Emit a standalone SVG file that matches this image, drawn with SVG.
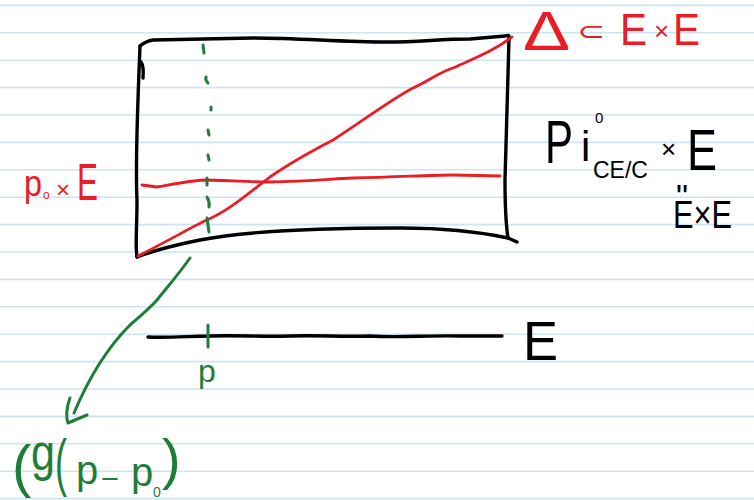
<svg xmlns="http://www.w3.org/2000/svg" width="754" height="500" viewBox="0 0 754 500">
<style>
.rule{stroke:#cde4f5;stroke-width:1.6}
.ink{fill:none;stroke-linecap:round;stroke-linejoin:round}
.blk{stroke:#000;stroke-width:3.4}
.red{stroke:#ec1c24;stroke-width:2.8}
.grn{stroke:#1e7d36;stroke-width:3}
text{font-family:"Liberation Sans","DejaVu Sans",sans-serif}
.tr{fill:#ec1c24}
.tb{fill:#000}
.tg{fill:#1e7d36}
</style>
<rect width="754" height="500" fill="#fff"/>
<g id="paper">
<line class="rule" x1="0" x2="754" y1="5.4" y2="5.4"/>
<line class="rule" x1="0" x2="754" y1="32.8" y2="32.8"/>
<line class="rule" x1="0" x2="754" y1="60.2" y2="60.2"/>
<line class="rule" x1="0" x2="754" y1="87.6" y2="87.6"/>
<line class="rule" x1="0" x2="754" y1="115" y2="115"/>
<line class="rule" x1="0" x2="754" y1="142.4" y2="142.4"/>
<line class="rule" x1="0" x2="754" y1="169.8" y2="169.8"/>
<line class="rule" x1="0" x2="754" y1="197.2" y2="197.2"/>
<line class="rule" x1="0" x2="754" y1="224.6" y2="224.6"/>
<line class="rule" x1="0" x2="754" y1="252" y2="252"/>
<line class="rule" x1="0" x2="754" y1="279.4" y2="279.4"/>
<line class="rule" x1="0" x2="754" y1="306.8" y2="306.8"/>
<line class="rule" x1="0" x2="754" y1="334.2" y2="334.2"/>
<line class="rule" x1="0" x2="754" y1="361.6" y2="361.6"/>
<line class="rule" x1="0" x2="754" y1="389" y2="389"/>
<line class="rule" x1="0" x2="754" y1="416.4" y2="416.4"/>
<line class="rule" x1="0" x2="754" y1="443.8" y2="443.8"/>
<line class="rule" x1="0" x2="754" y1="471.2" y2="471.2"/>
<line class="rule" x1="0" x2="754" y1="498.6" y2="498.6"/>
</g>
<g id="box">
<path class="ink blk" d="M140,46 Q146,41 153,40 L253,38 C300,38 340,42 387,42 C420,42 440,39 470,39 L505,36 Q510,34 509,38"/>
<path class="ink blk" d="M509,38 C508,80 506,140 505,180 C505,210 506,225 508,238 L517,242"/>
<path class="ink blk" d="M508,238 C480,232 450,228 400,228 C340,228 250,230 200,240 C170,246 150,252 137,257"/>
<path class="ink blk" d="M140,46 C138,100 135,160 137,200 C137,230 135,245 137,257"/>
<path class="ink blk" d="M141,62 Q144,66 143,78"/>
</g>
<g id="diagonal">
<path class="ink red" d="M138,256 C170,240 195,225 207,220 C230,210 250,192 270,177 C290,163 310,152 333,140 C360,123 390,100 413,88 C430,80 440,72 453,68 C475,58 495,50 512,37"/>
</g>
<g id="fiber">
<path class="ink red" d="M142,185 L157,187 C180,183 195,180 207,180 C240,181 250,182 270,182 C310,181 330,179 353,178 C400,177 430,175 453,175 L500,176"/>
</g>
<g id="vertical-fiber">
<path class="ink grn" d="M203,45 L204,53 M206,77 Q205,80 208,83 M211,107 L211,110 M208,130 L209,135 M208,155 L209,160 M207,178 L207,185 M207,197 Q210,202 209,207 M207,218 L209,232"/>
</g>
<g id="base-line">
<path class="ink blk" d="M148,337 C170,338 190,336 210,336 C240,335 260,337 290,336 C320,335 340,337 370,336 C400,338 430,335 460,336 L502,336"/>
<path class="ink grn" d="M208,325 L208,347"/>
</g>
<g id="connectors">
<path class="ink grn" d="M190,258 C178,275 165,290 157,300 C148,310 138,318 130,325 C110,345 90,375 74,413"/>
<path class="ink grn" d="M70,398 C66,408 66,418 68,423 L87,415"/>
</g>
<g id="label-diagonal">
<text class="tr" x="523" y="50" font-size="55" textLength="47" lengthAdjust="spacingAndGlyphs">Δ</text>
<text class="tr" x="577" y="40" font-size="26" textLength="28" lengthAdjust="spacingAndGlyphs">⊂</text>
<text class="tr" x="620" y="45" font-size="44" textLength="27" lengthAdjust="spacingAndGlyphs">E</text>
<text class="tr" x="654" y="40" font-size="26">×</text>
<text class="tr" x="673" y="45" font-size="44" textLength="27" lengthAdjust="spacingAndGlyphs">E</text>
</g>
<g id="label-p0E">
<text class="tr" x="24" y="196" font-size="36" textLength="18" lengthAdjust="spacingAndGlyphs">p</text>
<text class="tr" x="43" y="199" font-size="12">o</text>
<text class="tr" x="56" y="198" font-size="24">×</text>
<text class="tr" x="77" y="200" font-size="52" textLength="21" lengthAdjust="spacingAndGlyphs">E</text>
</g>
<g id="label-pic">
<text class="tb" x="545" y="163" font-size="62" textLength="28" lengthAdjust="spacingAndGlyphs">P</text>
<text class="tb" x="581" y="161" font-size="42">i</text>
<text class="tb" x="595" y="123" font-size="15">0</text>
<text class="tb" x="593" y="178" font-size="24" textLength="55" lengthAdjust="spacingAndGlyphs">CE/C</text>
<text class="tb" x="661" y="158" font-size="26">×</text>
<text class="tb" x="687" y="170" font-size="58" textLength="30" lengthAdjust="spacingAndGlyphs">E</text>
<text class="tb" x="676" y="208" font-size="34">"</text>
<text class="tb" x="673" y="228" font-size="39" textLength="59" lengthAdjust="spacingAndGlyphs">E×E</text>
</g>
<g id="label-E">
<text class="tb" x="523" y="360" font-size="56" textLength="35" lengthAdjust="spacingAndGlyphs">E</text>
</g>
<g id="label-p">
<text class="tg" x="198" y="382" font-size="32">p</text>
</g>
<g id="label-g">
<text class="tg" x="12" y="486" font-size="58">(</text>
<text class="tg" x="31" y="470" font-size="52" textLength="24" lengthAdjust="spacingAndGlyphs">g</text>
<text class="tg" x="55" y="484" font-size="63" textLength="12" lengthAdjust="spacingAndGlyphs">(</text>
<text class="tg" x="76" y="484" font-size="40">p</text>
<text class="tg" x="101" y="488" font-size="28" textLength="18" lengthAdjust="spacingAndGlyphs">−</text>
<text class="tg" x="131" y="486" font-size="40">p</text>
<text class="tg" x="153" y="497" font-size="14">0</text>
<text class="tg" x="162" y="478" font-size="56">)</text>
</g>
</svg>
